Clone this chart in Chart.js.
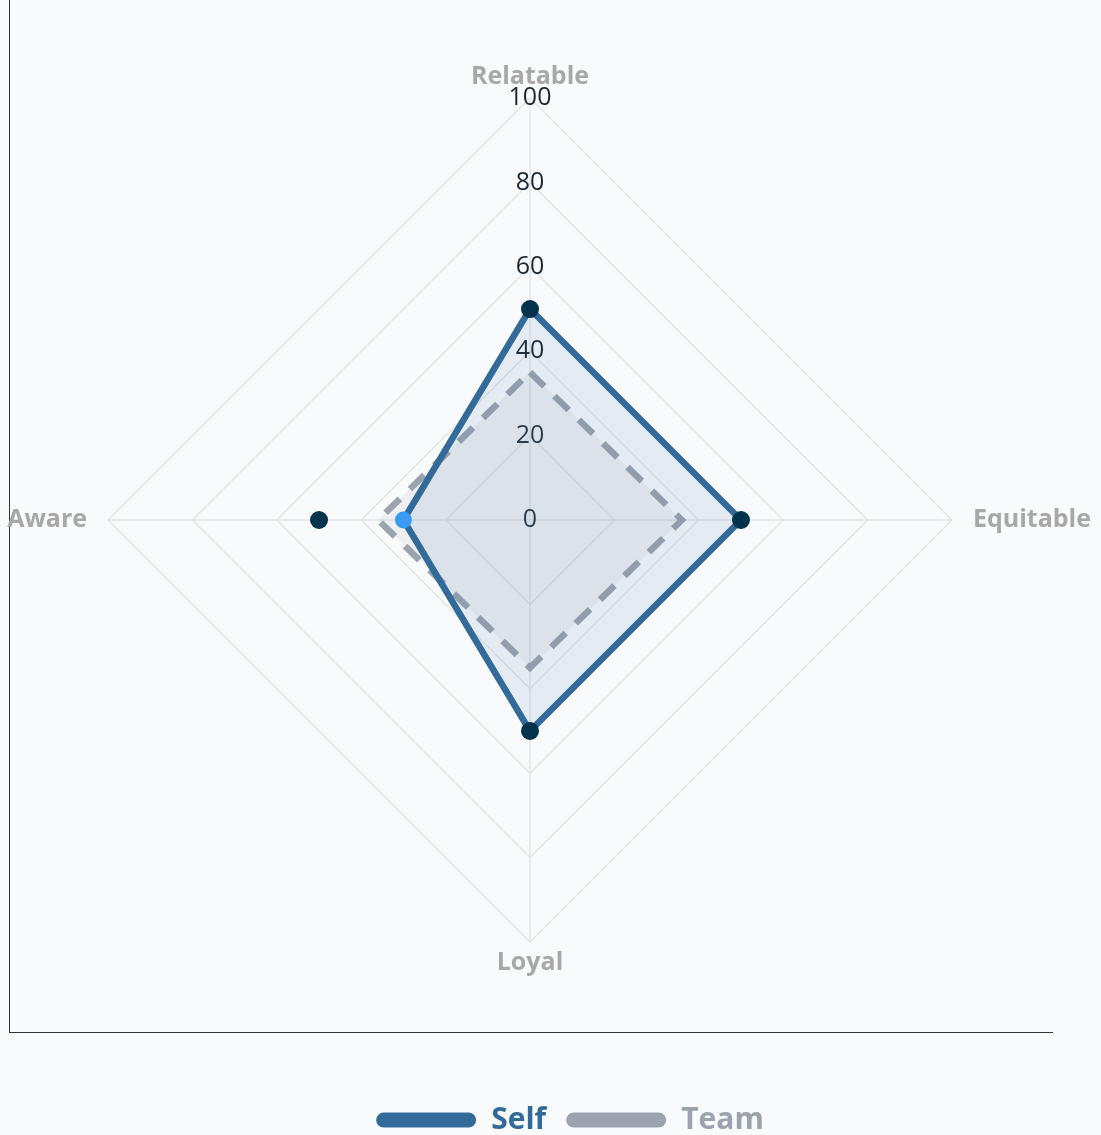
<!DOCTYPE html>
<html>
<head>
<meta charset="utf-8">
<script src="https://cdn.jsdelivr.net/npm/chart.js@4.4.1/dist/chart.umd.min.js"></script>
<style>
  html, body { margin: 0; padding: 0; background: #f9fafc; overflow: hidden; }
  .wrap { position: relative; width: 1101px; height: 1135px; overflow: hidden; }
  .frame {
    position: absolute; left: 9px; top: 0; width: 1044px; height: 1033px;
    box-sizing: border-box; border-left: 1px solid #333; border-bottom: 1px solid #333;
  }
  canvas { position: absolute; left: -11px; top: 0; }
</style>
</head>
<body>
<div class="wrap">
  <div class="frame"></div>
  <canvas id="chart-radar" width="1162" height="1145"></canvas>
</div>
<script>
// radar data
const LABELS = ['Relatable', 'Equitable', 'Loyal', 'Aware'];
const SELF_SCORES = [50, 50, 50, 30];
const TEAM_SCORES = [35, 36, 35, 36];
const TARGET_SCORES = [50, 50, 50, 50];
const TICK_VALUES = [0, 20, 40, 60, 80, 100];

const SELF_COLOR = '#326b9a';
const TEAM_COLOR = '#9ca3af';

Chart.defaults.font.family = "'Open Sans', sans-serif";

const ctx = document.getElementById('chart-radar').getContext('2d');

new Chart(ctx, {
  type: 'radar',
  data: {
    labels: LABELS,
    datasets: [
      {
        label: 'Self',
        data: SELF_SCORES,
        order: 1,
        borderColor: SELF_COLOR,
        backgroundColor: 'rgba(50,107,154,0.1)',
        borderWidth: 6.5,
        fill: true,
        pointRadius: 8.5,
        pointHoverRadius: 8.5,
        pointBackgroundColor: '#3b9bf3',
        pointBorderWidth: 0,
      },
      {
        label: 'Team',
        data: TEAM_SCORES,
        order: 2,
        borderColor: TEAM_COLOR,
        backgroundColor: 'rgba(156,163,175,0.12)',
        borderWidth: 6.5,
        borderDash: [20, 14],
        fill: true,
        pointRadius: 0,
        pointHoverRadius: 0,
      },
      {
        label: 'Target',
        data: TARGET_SCORES,
        order: 0,
        showLine: false,
        fill: false,
        borderColor: 'transparent',
        pointRadius: 9,
        pointHoverRadius: 9,
        pointBackgroundColor: '#03334d',
        pointBorderWidth: 0,
      },
    ],
  },
  options: {
    responsive: false,
    animation: false,
    elements: { line: { tension: 0 } },
    plugins: {
      tooltip: { enabled: false },
      legend: {
        position: 'bottom',
        title: { display: true, text: '', font: { size: 10 }, padding: { top: 33, bottom: 0 } },
        labels: {
          boxWidth: 100,
          boxHeight: 15,
          useBorderRadius: true,
          borderRadius: 7.5,
          padding: 20,
          font: { size: 30, weight: 'bold' },
          generateLabels(chart) {
            return chart.data.datasets
              .map((ds, i) => ({
                text: ds.label,
                fillStyle: ds.borderColor,
                strokeStyle: ds.borderColor,
                fontColor: ds.borderColor,
                lineWidth: 0,
                borderRadius: 7.5,
                datasetIndex: i,
                hidden: !chart.isDatasetVisible(i),
              }))
              .filter(item => item.text !== 'Target');
          },
        },
      },
    },
    scales: {
      r: {
        min: -0.001,
        max: 100,
        afterBuildTicks(scale) {
          scale.ticks = TICK_VALUES.map(v => ({ value: v }));
        },
        grid: { color: '#e4e5e8', lineWidth: 1.5 },
        angleLines: { color: '#e4e5e8', lineWidth: 1.5 },
        ticks: {
          color: '#1c2733',
          font: { size: 25 },
          showLabelBackdrop: false,
          backdropPadding: -4,
          callback: v => String(v),
        },
        pointLabels: {
          color: '#a8a8a8',
          font: { size: 25, weight: 'bold', lineHeight: 0 },
          padding: 12.5,
        },
      },
      // empty right-hand gutter, keeps the radar left of the legend centre
      y: {
        type: 'linear',
        position: 'right',
        grid: { display: false },
        border: { display: false },
        ticks: { display: false },
        afterFit(scale) { scale.width = 40; },
      },
    },
  },
});
</script>
</body>
</html>
